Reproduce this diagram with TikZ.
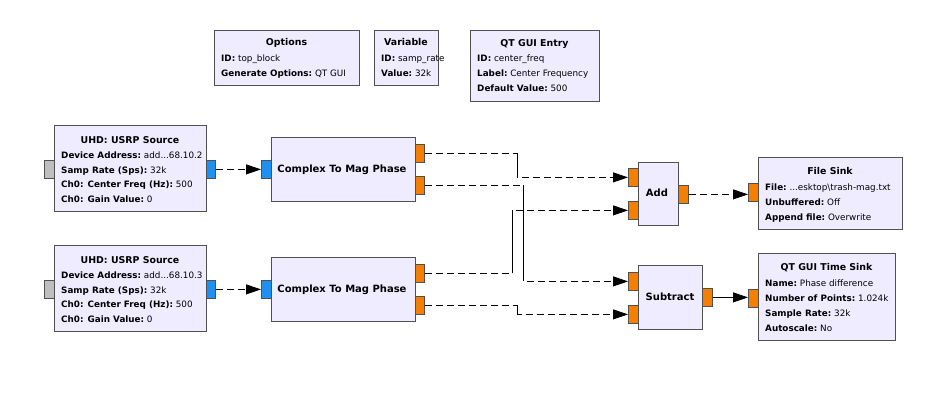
\documentclass[tikz,border=0pt]{standalone}
\usepackage{fontspec}
\setmainfont{DejaVu Sans}
\usetikzlibrary{arrows.meta}
\definecolor{blockfill}{RGB}{240,236,255}
\definecolor{blockline}{RGB}{80,80,80}
\definecolor{portorange}{RGB}{245,127,0}
\definecolor{portblue}{RGB}{32,144,240}
\definecolor{portgray}{RGB}{190,190,190}
\tikzset{
  block/.style={draw=blockline, fill=blockfill, line width=0.9pt, inner sep=0pt, anchor=north west},
  port/.style={draw=blockline, line width=0.8pt, inner sep=0pt, anchor=north west, minimum width=9pt, minimum height=18pt},
  oport/.style={port, fill=portorange},
  bport/.style={port, fill=portblue},
  gport/.style={port, fill=portgray},
  ttl/.style={font=\fontsize{9.4}{11}\selectfont\bfseries, anchor=mid, inner sep=0pt, yshift=-0.8pt},
  lbl/.style={font=\fontsize{8.8}{10}\selectfont, anchor=mid west, inner sep=0pt, yshift=-0.8pt},
  bigt/.style={font=\fontsize{10}{12}\selectfont\bfseries, anchor=mid, inner sep=0pt, yshift=-0.8pt},
  tip/.style={-{Triangle[length=15pt,width=10pt]}},
  conn/.style={draw=black, line width=0.8pt, dash pattern=on 7pt off 4pt},
  sconn/.style={draw=black, line width=0.8pt},
}
\newcommand{\kv}[2]{\textbf{#1}~#2}
\begin{document}
\begin{tikzpicture}[x=1pt,y=-1pt]
\fill[white] (0,0) rectangle (927,403);
\useasboundingbox (0,0) rectangle (927,403);

% top blocks
\node[block, minimum width=145pt, minimum height=55pt] (opt) at (214,30) {};
\node[ttl] (optt) at (286.5,42) {Options};
\node[lbl] (opt1) at (221,58) {\kv{ID:}{top\_block}};
\node[lbl] (opt2) at (221,73) {\kv{Generate Options:}{QT GUI}};

\node[block, minimum width=64pt, minimum height=55pt] (var) at (374,30) {};
\node[ttl] (vart) at (406,42) {Variable};
\node[lbl] (var1) at (381,58) {\kv{ID:}{samp\_rate}};
\node[lbl] (var2) at (381,73) {\kv{Value:}{32k}};

\node[block, minimum width=129pt, minimum height=71pt] (ent) at (470,30) {};
\node[ttl] (entt) at (534.5,43) {QT GUI Entry};
\node[lbl] (ent1) at (477,58) {\kv{ID:}{center\_freq}};
\node[lbl] (ent2) at (477,73) {\kv{Label:}{Center Frequency}};
\node[lbl] (ent3) at (477,88) {\kv{Default Value:}{500}};

% USRP sources
\foreach \n/\dy/\ad in {1/0/2, 2/120/3}{
  \node[block, minimum width=152pt, minimum height=86pt] (usrp\n) at (54,125+\dy) {};
  \node[ttl] (usrp\n t) at (130,140+\dy) {UHD: USRP Source};
  \node[lbl] (usrp\n a) at (61,154.5+\dy) {\kv{Device Address:}{add...68.10.\ad}};
  \node[lbl] (usrp\n b) at (61,169.5+\dy) {\kv{Samp Rate (Sps):}{32k}};
  \node[lbl] (usrp\n c) at (61,184+\dy) {\kv{Ch0: Center Freq (Hz):}{500}};
  \node[lbl] (usrp\n d) at (61,199+\dy) {\kv{Ch0: Gain Value:}{0}};
  \node[gport, minimum width=10pt] (usrp\n i) at (44,160+\dy) {};
  \node[bport] (usrp\n o) at (206,160+\dy) {};
  % complex to mag phase
  \node[block, minimum width=144pt, minimum height=64pt] (cmp\n) at (271,137+\dy) {};
  \node[bigt] (cmp\n t) at (342,169+\dy) {Complex To Mag Phase};
  \node[bport, minimum width=10pt] (cmp\n i) at (261,160+\dy) {};
  \node[oport] (cmp\n a) at (415,144+\dy) {};
  \node[oport] (cmp\n b) at (415,176+\dy) {};
  \draw[conn, tip] (usrp\n o.east) -- (cmp\n i.west);
}

% Add
\node[block, minimum width=40pt, minimum height=63pt] (add) at (638,162) {};
\node[bigt] (addt) at (657,193) {Add};
\node[oport, minimum width=10pt] (addi1) at (628,168) {};
\node[oport, minimum width=10pt] (addi2) at (628,201) {};
\node[oport, minimum width=10pt] (addo) at (678,185) {};

% Subtract
\node[block, minimum width=64pt, minimum height=64pt] (sub) at (638,265) {};
\node[bigt] (subt) at (670,297) {Subtract};
\node[oport, minimum width=10pt] (subi1) at (628,272) {};
\node[oport, minimum width=10pt] (subi2) at (628,305) {};
\node[oport, minimum width=10pt] (subo) at (702,288) {};

% File sink
\node[block, minimum width=144pt, minimum height=72pt] (fs) at (758,157) {};
\node[ttl] (fst) at (830,171) {File Sink};
\node[lbl] (fs1) at (765,186.5) {\kv{File:}{...esktop\textbackslash trash-mag.txt}};
\node[lbl] (fs2) at (765,201.5) {\kv{Unbuffered:}{Off}};
\node[lbl] (fs3) at (765,216.5) {\kv{Append file:}{Overwrite}};
\node[oport, minimum width=10pt] (fsi) at (748,183.5) {};

% Time sink
\node[block, minimum width=137pt, minimum height=87pt] (ts) at (758,253) {};
\node[ttl] (tst) at (826.5,267) {QT GUI Time Sink};
\node[lbl] (ts1) at (765,282.5) {\kv{Name:}{Phase difference}};
\node[lbl] (ts2) at (765,297.5) {\kv{Number of Points:}{1.024k}};
\node[lbl] (ts3) at (765,312.5) {\kv{Sample Rate:}{32k}};
\node[lbl] (ts4) at (765,327.5) {\kv{Autoscale:}{No}};
\node[oport, minimum width=10pt] (tsi) at (748,289) {};

% routing columns
\coordinate (k1) at (517,0);
\coordinate (k2) at (523,0);
\coordinate (k3) at (512,0);
\coordinate (k4) at (517.5,0);

\draw[conn, tip] (cmp1a.east) -| (k1 |- addi1.west) -- (addi1.west);
\draw[sconn] (cmp1a.east -| k1) -- (k1 |- addi1.west);
\draw[conn, tip] (cmp1b.east) -| (k2 |- subi1.west) -- (subi1.west);
\draw[sconn] (cmp1b.east -| k2) -- (k2 |- subi1.west);
\draw[conn, tip] (cmp2a.east) -| (k3 |- addi2.west) -- (addi2.west);
\draw[sconn] (cmp2a.east -| k3) -- (k3 |- addi2.west);
\draw[conn, tip] (cmp2b.east) -| (k4 |- subi2.west) -- (subi2.west);
\draw[sconn] (cmp2b.east -| k4) -- (k4 |- subi2.west);

\draw[conn, tip] (addo.east) -- (addo.east -| fsi.west);
\draw[sconn, tip] (subo.east) -- (subo.east -| tsi.west);
\end{tikzpicture}
\end{document}
